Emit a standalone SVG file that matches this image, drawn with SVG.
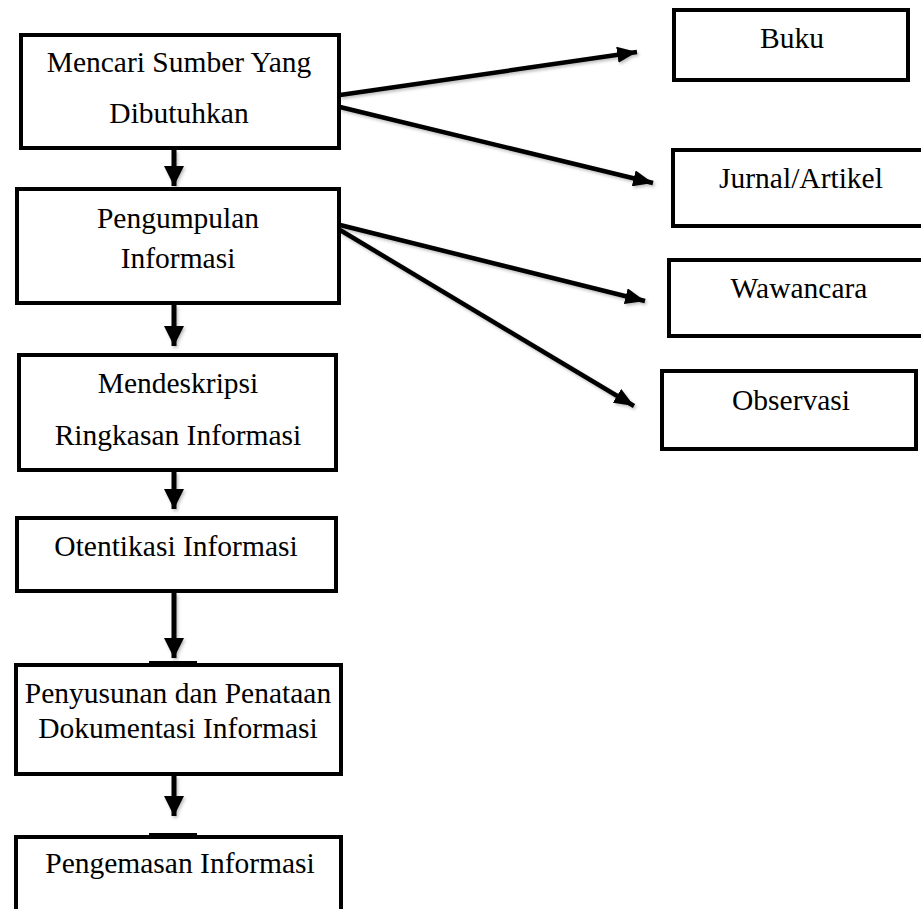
<svg xmlns="http://www.w3.org/2000/svg" width="921" height="909" viewBox="0 0 921 909">
<style>
.box{fill:#fff;stroke:#000;stroke-width:4}
.t{font-family:"Liberation Serif","Times New Roman",serif;font-size:29.5px;fill:#000;text-anchor:middle}
.c{stroke:#000;stroke-width:5;fill:none}
.d{stroke:#000;stroke-width:4.5;fill:none}
</style>
<defs>
<marker id="ah" viewBox="0 0 10 10" refX="10" refY="5" markerWidth="4" markerHeight="4" markerUnits="strokeWidth" orient="auto" preserveAspectRatio="none">
<path d="M0,0L10,5L0,10z" fill="#000"/>
</marker>
<marker id="ah2" viewBox="0 0 10 10" refX="10" refY="5" markerWidth="4.4" markerHeight="3.6" markerUnits="strokeWidth" orient="auto" preserveAspectRatio="none">
<path d="M0,0L10,5L0,10z" fill="#000"/>
</marker>
<filter id="sh" x="-10%" y="-10%" width="120%" height="120%">
<feDropShadow dx="1.5" dy="2" stdDeviation="1.5" flood-color="#000" flood-opacity="0.25"/>
</filter>
</defs>
<g id="connectors">
<g filter="url(#sh)">
<line class="c" x1="174" y1="150" x2="174" y2="186" marker-end="url(#ah)"/>
<line class="c" x1="174" y1="305" x2="174" y2="346" marker-end="url(#ah)"/>
<line class="c" x1="174" y1="472" x2="174" y2="509" marker-end="url(#ah)"/>
<line class="c" x1="174" y1="593" x2="174" y2="658" marker-end="url(#ah)"/>
<line class="c" x1="174" y1="776" x2="174" y2="816" marker-end="url(#ah)"/>
<line class="d" x1="340" y1="95" x2="637" y2="52" marker-end="url(#ah2)"/>
<line class="d" x1="340" y1="107" x2="653" y2="183" marker-end="url(#ah2)"/>
<line class="d" x1="340" y1="225" x2="645" y2="301" marker-end="url(#ah2)"/>
<line class="d" x1="340" y1="230" x2="634" y2="406" marker-end="url(#ah2)"/>
</g>
</g>
<g id="n1"><rect class="box" x="21" y="35" width="318" height="113"/>
<text class="t" x="179" y="72">Mencari Sumber Yang</text>
<text class="t" x="179" y="123">Dibutuhkan</text></g>
<g id="n2"><rect class="box" x="17" y="189" width="322" height="114"/>
<text class="t" x="178" y="228">Pengumpulan</text>
<text class="t" x="178" y="268">Informasi</text></g>
<g id="n3"><rect class="box" x="19" y="355" width="317" height="115"/>
<text class="t" x="178" y="393">Mendeskripsi</text>
<text class="t" x="178" y="445">Ringkasan Informasi</text></g>
<g id="n4"><rect class="box" x="17" y="518" width="319" height="73"/>
<text class="t" x="176" y="556">Otentikasi Informasi</text></g>
<g id="n5"><rect class="box" x="16" y="665" width="325" height="109"/>
<rect x="149" y="661" width="48" height="6" fill="#000"/>
<text class="t" x="178" y="703">Penyusunan dan Penataan</text>
<text class="t" x="178" y="738">Dokumentasi Informasi</text></g>
<g id="n6"><rect class="box" x="16" y="837" width="325" height="80"/>
<rect x="149" y="833" width="48" height="6" fill="#000"/>
<text class="t" x="180" y="873">Pengemasan Informasi</text></g>
<g id="n7"><rect class="box" x="674" y="10" width="234" height="70"/>
<text class="t" x="792" y="48">Buku</text></g>
<g id="n8"><rect class="box" x="673" y="150" width="252" height="76"/>
<text class="t" x="801" y="188">Jurnal/Artikel</text></g>
<g id="n9"><rect class="box" x="669" y="260" width="256" height="76"/>
<text class="t" x="799" y="298">Wawancara</text></g>
<g id="n10"><rect class="box" x="662" y="371" width="254" height="78"/>
<text class="t" x="791" y="410">Observasi</text></g>
</svg>
